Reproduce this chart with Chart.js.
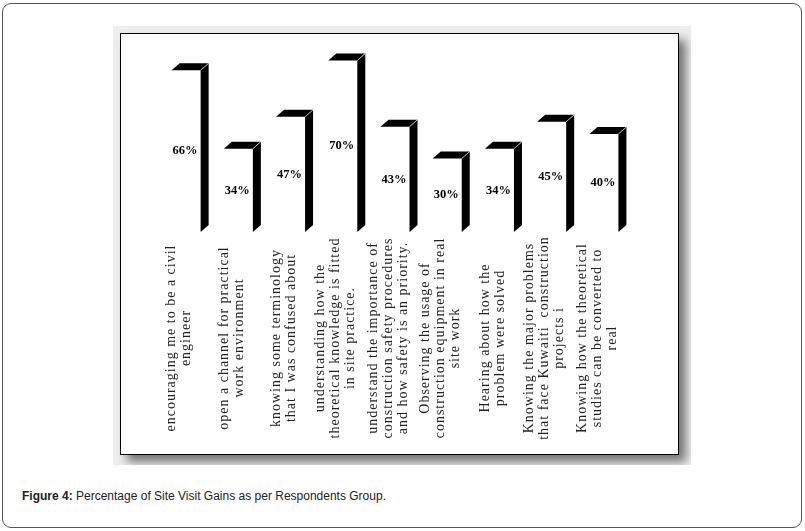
<!DOCTYPE html>
<html>
<head>
<meta charset="utf-8">
<script src="https://cdn.jsdelivr.net/npm/chart.js@4/dist/chart.umd.min.js"></script>
<style>
    body { margin: 0; background: #fff; }
    #frame {
        position: absolute; left: 2px; top: 3px; width: 800px; height: 525px;
        box-sizing: border-box; border: 1px solid #555; border-radius: 9px;
    }
    #shade {
        position: absolute; left: 113px; top: 26px; width: 578px; height: 439px;
        background: #eeeeee; overflow: hidden;
    }
    #box {
        position: absolute; left: 7px; top: 7px; width: 559px; height: 422px;
        box-sizing: border-box; border: 1.5px solid #000; background: #fff;
        box-shadow: 7px 7px 9px rgba(0,0,0,0.5);
    }
    #caption {
        position: absolute; left: 22px; top: 489px;
        font: 12px "Liberation Sans", Arial, sans-serif; color: #222; line-height: 14px;
    }
</style>
</head>
<body>
<div id="frame"></div>
<div id="shade">
    <div id="box"><canvas id="gains" width="556" height="419"></canvas></div>
</div>
<div id="caption"><b>Figure 4:</b> Percentage of Site Visit Gains as per Respondents Group.</div>
<script>
// categorias (una linea por elemento)
const categories = [
    ['encouraging me to be a civil', 'engineer'],
    ['open a channel for practical', 'work environment'],
    ['knowing some terminology', 'that I was confused about'],
    ['understanding how the', 'theoretical knowledge is fitted', 'in site practice.'],
    ['understand the importance of', 'construction safety procedures', 'and how safety is an priority.'],
    ['Observing the usage of', 'construction equipment in real', 'site work'],
    ['Hearing about how the', 'problem were solved'],
    ['Knowing the major problems', 'that face Kuwaiti  construction', 'projects i'],
    ['Knowing how the theoretical', 'studies can be converted to', 'real']
];
const gains = [66, 34, 47, 70, 43, 30, 34, 45, 40];
const gainLabels = ['66%', '34%', '47%', '70%', '43%', '30%', '34%', '45%', '40%'];

// barras 3D: cara superior y lateral negras
const bars3d = {
    id: 'bars3d',
    afterDatasetsDraw(chart) {
        const ctx = chart.ctx;
        const meta = chart.getDatasetMeta(0);
        const dx = 8, dy = 7;
        ctx.save();
        meta.data.forEach(function(bar, i) {
            const p = bar.getProps(['x', 'y', 'base', 'width'], true);
            const l = p.x - p.width / 2, r = p.x + p.width / 2;
            ctx.fillStyle = '#000';
            ctx.beginPath();
            ctx.moveTo(r, p.y);
            ctx.lineTo(r + dx, p.y - dy);
            ctx.lineTo(r + dx, p.base - dy);
            ctx.lineTo(r, p.base);
            ctx.closePath();
            ctx.fill();
            ctx.beginPath();
            ctx.moveTo(l, p.y);
            ctx.lineTo(l + dx, p.y - dy);
            ctx.lineTo(r + dx, p.y - dy);
            ctx.lineTo(r, p.y);
            ctx.closePath();
            ctx.fill();
            ctx.strokeStyle = '#ddd';
            ctx.lineWidth = 0.8;
            ctx.beginPath();
            ctx.moveTo(r, p.y);
            ctx.lineTo(r + dx, p.y - dy);
            ctx.stroke();

            ctx.fillStyle = '#000';
            ctx.font = 'bold 12.5px "Liberation Serif", "Times New Roman", serif';
            ctx.textAlign = 'center';
            ctx.textBaseline = 'middle';
            ctx.fillText(gainLabels[i], p.x - 1, (p.y + p.base) / 2);
        });
        ctx.restore();
    }
};

// etiquetas verticales centradas bajo cada barra
const rotatedLabels = {
    id: 'rotatedLabels',
    afterDraw(chart) {
        const ctx = chart.ctx;
        const xs = chart.scales.x;
        ctx.save();
        ctx.fillStyle = '#222';
        ctx.font = '14px "Liberation Serif", "Times New Roman", serif';
        ctx.letterSpacing = '1px';
        ctx.textAlign = 'center';
        ctx.textBaseline = 'middle';
        categories.forEach(function(lines, i) {
            const x = xs.getPixelForValue(i) - 7;
            ctx.save();
            ctx.translate(x, 304);
            ctx.rotate(-Math.PI / 2);
            lines.forEach(function(line, j) {
                ctx.fillText(line, 0, (j - (lines.length - 1) / 2) * 15);
            });
            ctx.restore();
        });
        ctx.restore();
    }
};

new Chart(document.getElementById('gains').getContext('2d'), {
    type: 'bar',
    data: {
        labels: categories,
        datasets: [{
            data: gains,
            backgroundColor: 'rgba(0,0,0,0)',
            borderWidth: 0,
            categoryPercentage: 1,
            barPercentage: 0.556
        }]
    },
    options: {
        responsive: false,
        animation: false,
        events: [],
        layout: { padding: { left: 39, right: 47, top: 2, bottom: 221 } },
        plugins: { legend: { display: false }, tooltip: { enabled: false } },
        scales: {
            x: { display: false },
            y: { display: false, min: 0, max: 80 }
        }
    },
    plugins: [bars3d, rotatedLabels]
});
</script>
</body>
</html>
